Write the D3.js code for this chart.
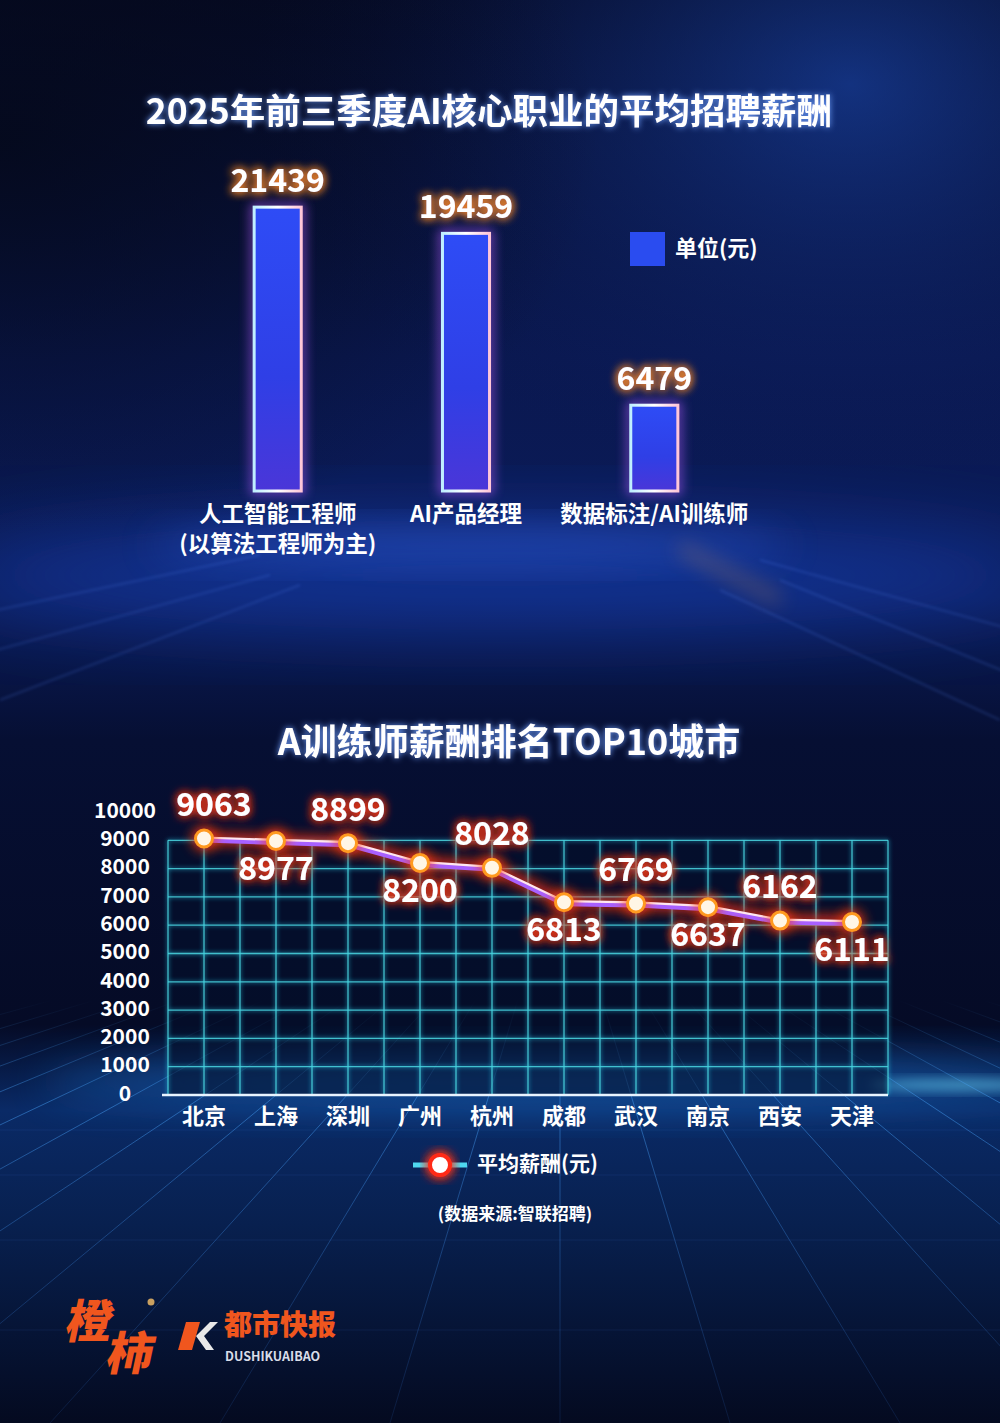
<!DOCTYPE html>
<html>
<head>
<meta charset="utf-8">
<script src="https://cdn.jsdelivr.net/npm/d3@7"></script>
<style>
html,body{margin:0;padding:0;background:#050a22;}
svg{display:block;}
text{font-family:"Noto Sans CJK SC","Noto Sans",sans-serif;}
</style>
</head>
<body>
<svg id="chart" width="1000" height="1423"></svg>
<script>
// ---------- DATA ----------
const title1 = "2025年前三季度AI核心职业的平均招聘薪酬";
const jobCategories = ["人工智能工程师|(以算法工程师为主)", "AI产品经理", "数据标注/AI训练师"];
const jobSalaries = [21439, 19459, 6479];
const barLegendLabel = "单位(元)";

const title2 = "A训练师薪酬排名TOP10城市";
const cities = ["北京", "上海", "深圳", "广州", "杭州", "成都", "武汉", "南京", "西安", "天津"];
const citySalaries = [9063, 8977, 8899, 8200, 8028, 6813, 6769, 6637, 6162, 6111];
const yTicks = [0, 1000, 2000, 3000, 4000, 5000, 6000, 7000, 8000, 9000, 10000];
const lineLegendLabel = "平均薪酬(元)";
const sourceNote = "(数据来源:智联招聘)";

// ---------- SETUP ----------
const W = 1000, H = 1423;
const svg = d3.select("#chart");
const defs = svg.append("defs");

function glowFilter(id, color, std, strength) {
  const f = defs.append("filter").attr("id", id)
    .attr("x", "-50%").attr("y", "-50%").attr("width", "200%").attr("height", "200%");
  f.append("feFlood").attr("flood-color", color).attr("result", "c");
  f.append("feComposite").attr("in", "c").attr("in2", "SourceAlpha").attr("operator", "in").attr("result", "cs");
  f.append("feGaussianBlur").attr("in", "cs").attr("stdDeviation", std).attr("result", "b");
  const m = f.append("feMerge");
  for (let i = 0; i < strength; i++) m.append("feMergeNode").attr("in", "b");
  m.append("feMergeNode").attr("in", "SourceGraphic");
}
glowFilter("glowOrange", "#ff8a2c", 5, 2);
glowFilter("glowPurple", "#b050ff", 6, 2);
glowFilter("glowRed", "#ff3418", 6, 2);
glowFilter("glowRedText", "#ff3a14", 5, 2);
glowFilter("glowCyan", "#2fe0ff", 2, 1);
glowFilter("glowWhite", "#6fa0ff", 3, 1);

function blurFilter(id, std) {
  const f = defs.append("filter").attr("id", id)
    .attr("x", "-50%").attr("y", "-50%").attr("width", "200%").attr("height", "200%");
  f.append("feGaussianBlur").attr("stdDeviation", std);
}
blurFilter("blur20", 20);
blurFilter("blur40", 40);
blurFilter("blur6", 6);
blurFilter("blur10", 10);
blurFilter("blur2", 1.5);

// ---------- BACKGROUND ----------
const bgGrad = defs.append("linearGradient").attr("id", "bgGrad")
  .attr("x1", 0).attr("y1", 0).attr("x2", 0).attr("y2", 1);
bgGrad.append("stop").attr("offset", "0").attr("stop-color", "#060b26");
bgGrad.append("stop").attr("offset", "0.25").attr("stop-color", "#0a1850");
bgGrad.append("stop").attr("offset", "0.42").attr("stop-color", "#0b1c5a");
bgGrad.append("stop").attr("offset", "0.52").attr("stop-color", "#060f33");
bgGrad.append("stop").attr("offset", "0.72").attr("stop-color", "#050b26");
bgGrad.append("stop").attr("offset", "0.78").attr("stop-color", "#0a2a66");
bgGrad.append("stop").attr("offset", "0.86").attr("stop-color", "#08204f");
bgGrad.append("stop").attr("offset", "1").attr("stop-color", "#040a20");
svg.append("rect").attr("width", W).attr("height", H).attr("fill", "url(#bgGrad)");

const rg = defs.append("radialGradient").attr("id", "topRight").attr("cx", 0.85).attr("cy", 0.12).attr("r", 0.6);
rg.append("stop").attr("offset", 0).attr("stop-color", "#1d4fc0").attr("stop-opacity", 0.55);
rg.append("stop").attr("offset", 1).attr("stop-color", "#0a1850").attr("stop-opacity", 0);
svg.append("rect").attr("width", W).attr("height", 700).attr("fill", "url(#topRight)");

const lg = defs.append("radialGradient").attr("id", "leftDark").attr("cx", 0.0).attr("cy", 0.2).attr("r", 0.6);
lg.append("stop").attr("offset", 0).attr("stop-color", "#040818").attr("stop-opacity", 0.8);
lg.append("stop").attr("offset", 1).attr("stop-color", "#040818").attr("stop-opacity", 0);
svg.append("rect").attr("width", W).attr("height", 700).attr("fill", "url(#leftDark)");

// horizon glows
svg.append("ellipse").attr("cx", 500).attr("cy", 575).attr("rx", 560).attr("ry", 55)
  .attr("fill", "#1f4fd8").attr("opacity", 0.45).attr("filter", "url(#blur40)");
svg.append("ellipse").attr("cx", 470).attr("cy", 545).attr("rx", 320).attr("ry", 18)
  .attr("fill", "#3d72ff").attr("opacity", 0.35).attr("filter", "url(#blur20)");
svg.append("line").attr("x1", 680).attr("y1", 548).attr("x2", 780).attr("y2", 600)
  .attr("stroke", "#d08a40").attr("stroke-width", 10).attr("opacity", 0.35).attr("filter", "url(#blur10)");
svg.append("ellipse").attr("cx", 560).attr("cy", 1082).attr("rx", 520).attr("ry", 28)
  .attr("fill", "#1e7ee0").attr("opacity", 0.45).attr("filter", "url(#blur20)");
svg.append("ellipse").attr("cx", 960).attr("cy", 1085).attr("rx", 90).attr("ry", 6)
  .attr("fill", "#6fe0ff").attr("opacity", 0.55).attr("filter", "url(#blur6)");

// streaks near the upper horizon
const streaks = svg.append("g").attr("opacity", 0.25).attr("filter", "url(#blur2)");
[[-50, 620, 260, 555], [-40, 660, 270, 575], [0, 700, 300, 585], [1050, 640, 760, 560], [1050, 690, 780, 580], [1000, 720, 720, 590]]
  .forEach(s => streaks.append("line").attr("x1", s[0]).attr("y1", s[1]).attr("x2", s[2]).attr("y2", s[3])
    .attr("stroke", "#5a8cff").attr("stroke-width", 1.5));

// perspective floor grid at the bottom
const floor = svg.append("g");
const fg = defs.append("linearGradient").attr("id", "floorFade").attr("gradientUnits", "userSpaceOnUse")
  .attr("x1", 0).attr("y1", 1000).attr("x2", 0).attr("y2", 1423);
fg.append("stop").attr("offset", 0).attr("stop-color", "#4aa8ff").attr("stop-opacity", 0);
fg.append("stop").attr("offset", 0.25).attr("stop-color", "#4aa8ff").attr("stop-opacity", 0.45);
fg.append("stop").attr("offset", 1).attr("stop-color", "#2f6fd0").attr("stop-opacity", 0.15);
const vpX = 560, vpY = 860;
d3.range(-12, 13).forEach(k => {
  const xb = vpX + k * 170;
  floor.append("line").attr("x1", vpX + (xb - vpX) * 0.25).attr("y1", vpY + (H - vpY) * 0.25)
    .attr("x2", xb).attr("y2", H)
    .attr("stroke", "url(#floorFade)").attr("stroke-width", 1);
});
[1130, 1175, 1240, 1330].forEach(y => floor.append("line").attr("x1", 0).attr("x2", W).attr("y1", y).attr("y2", y)
  .attr("stroke", "#3f7fd8").attr("stroke-opacity", 0.12));

// ---------- CHART 1: BAR ----------
svg.append("text").attr("x", 489).attr("y", 114).attr("text-anchor", "middle")
  .attr("dominant-baseline", "middle").attr("font-size", 35.5).attr("font-weight", 700)
  .attr("fill", "#ffffff").attr("filter", "url(#glowWhite)").text(title1);

const xBar = d3.scaleBand().domain(jobCategories).range([160, 772]).paddingInner(0.75).paddingOuter(0.5);
const yBar = d3.scaleLinear().domain([0, 25000]).range([491, 160]);

const barFill = defs.append("linearGradient").attr("id", "barFill").attr("x1", 0).attr("y1", 0).attr("x2", 0).attr("y2", 1);
barFill.append("stop").attr("offset", 0).attr("stop-color", "#2e4cf6");
barFill.append("stop").attr("offset", 0.6).attr("stop-color", "#2f3fe6");
barFill.append("stop").attr("offset", 1).attr("stop-color", "#4a36d8");
const barStroke = defs.append("linearGradient").attr("id", "barStroke").attr("x1", 0).attr("y1", 0).attr("x2", 1).attr("y2", 0);
barStroke.append("stop").attr("offset", 0).attr("stop-color", "#bfefff");
barStroke.append("stop").attr("offset", 0.5).attr("stop-color", "#ffffff");
barStroke.append("stop").attr("offset", 1).attr("stop-color", "#ffc6d8");

const bars = svg.append("g");
bars.selectAll("rect.glow").data(jobSalaries).join("rect").attr("class", "glow")
  .attr("x", (d, i) => xBar(jobCategories[i]))
  .attr("y", d => yBar(d))
  .attr("width", xBar.bandwidth())
  .attr("height", d => yBar(0) - yBar(d))
  .attr("fill", "none").attr("stroke", "#b45cff").attr("stroke-width", 6)
  .attr("opacity", 0.8).attr("filter", "url(#blur6)");
bars.selectAll("rect.bar").data(jobSalaries).join("rect").attr("class", "bar")
  .attr("x", (d, i) => xBar(jobCategories[i]))
  .attr("y", d => yBar(d))
  .attr("width", xBar.bandwidth())
  .attr("height", d => yBar(0) - yBar(d))
  .attr("fill", "url(#barFill)").attr("stroke", "url(#barStroke)").attr("stroke-width", 3);
bars.selectAll("line.top").data(jobSalaries).join("line").attr("class", "top")
  .attr("x1", (d, i) => xBar(jobCategories[i]))
  .attr("x2", (d, i) => xBar(jobCategories[i]) + xBar.bandwidth())
  .attr("y1", d => yBar(d)).attr("y2", d => yBar(d))
  .attr("stroke", "#ffe2c0").attr("stroke-width", 3).attr("filter", "url(#glowOrange)");

// axis line
svg.append("line").attr("x1", 196).attr("x2", 730).attr("y1", yBar(0)).attr("y2", yBar(0))
  .attr("stroke", "#cfc8ff").attr("stroke-width", 2.5).attr("filter", "url(#glowPurple)");

// value labels
svg.append("g").selectAll("text").data(jobSalaries).join("text")
  .attr("x", (d, i) => xBar(jobCategories[i]) + xBar.bandwidth() / 2)
  .attr("y", d => yBar(d) - 24)
  .attr("text-anchor", "middle").attr("dominant-baseline", "middle")
  .attr("font-size", 32).attr("font-weight", 700).attr("fill", "#ffffff")
  .attr("filter", "url(#glowOrange)").text(d => d);

// category labels (separate text per line)
const catG = svg.append("g");
jobCategories.forEach(c => {
  const lines = c.split("|");
  lines.forEach((l, j) => catG.append("text")
    .attr("x", xBar(c) + xBar.bandwidth() / 2).attr("y", 516 + j * 30)
    .attr("text-anchor", "middle").attr("dominant-baseline", "middle")
    .attr("font-size", 22.5).attr("font-weight", 700).attr("fill", "#ffffff").text(l));
});

// legend
const leg1 = svg.append("g").attr("transform", "translate(630,232)");
leg1.append("rect").attr("width", 35).attr("height", 34).attr("fill", "#2a4cf0");
leg1.append("text").attr("x", 45).attr("y", 18).attr("dominant-baseline", "middle")
  .attr("font-size", 22).attr("font-weight", 700).attr("fill", "#ffffff").text(barLegendLabel);

// ---------- CHART 2: LINE ----------
svg.append("text").attr("x", 509).attr("y", 745).attr("text-anchor", "middle")
  .attr("dominant-baseline", "middle").attr("font-size", 36).attr("font-weight", 700)
  .attr("fill", "#ffffff").attr("filter", "url(#glowWhite)").text(title2);

const xL = d3.scaleBand().domain(cities).range([168, 888]);
const yL = d3.scaleLinear().domain([0, 10000]).range([1095, 812]);
const gridTop = yL(9000);

svg.append("rect").attr("x", xL.range()[0]).attr("y", gridTop)
  .attr("width", xL.range()[1] - xL.range()[0]).attr("height", yL(0) - gridTop)
  .attr("fill", "#04102c").attr("opacity", 0.55);

const grid = svg.append("g").attr("stroke", "#49d6e0").attr("stroke-width", 1.3)
  .attr("stroke-opacity", 0.85).attr("filter", "url(#glowCyan)");
grid.selectAll("line.h").data(yTicks.filter(t => t >= 1000 && t <= 9000)).join("line").attr("class", "h")
  .attr("x1", xL.range()[0]).attr("x2", xL.range()[1]).attr("y1", d => yL(d)).attr("y2", d => yL(d));
const vLines = [];
cities.forEach(c => { vLines.push(xL(c)); vLines.push(xL(c) + xL.bandwidth() / 2); });
vLines.push(xL.range()[1]);
grid.selectAll("line.v").data(vLines).join("line").attr("class", "v")
  .attr("x1", d => d).attr("x2", d => d).attr("y1", gridTop).attr("y2", yL(0));

svg.append("line").attr("x1", 162).attr("x2", xL.range()[1]).attr("y1", yL(0)).attr("y2", yL(0))
  .attr("stroke", "#e8f4ff").attr("stroke-width", 2.5);

svg.append("g").selectAll("text").data(yTicks).join("text")
  .attr("x", 125).attr("y", d => yL(d)).attr("text-anchor", "middle").attr("dominant-baseline", "middle")
  .attr("font-size", 21).attr("font-weight", 700).attr("fill", "#ffffff").text(d => d);

svg.append("g").selectAll("text").data(cities).join("text")
  .attr("x", d => xL(d) + xL.bandwidth() / 2).attr("y", 1118)
  .attr("text-anchor", "middle").attr("dominant-baseline", "middle")
  .attr("font-size", 22).attr("font-weight", 700).attr("fill", "#ffffff").text(d => d);

// line
const pts = cities.map((c, i) => [xL(c) + xL.bandwidth() / 2, yL(citySalaries[i])]);
const lineGen = d3.line();
svg.append("path").attr("d", lineGen(pts)).attr("fill", "none").attr("stroke", "#ff3010")
  .attr("stroke-width", 14).attr("opacity", 0.7).attr("filter", "url(#blur6)");
svg.append("path").attr("d", lineGen(pts.map(p => [p[0], p[1] + 1.5]))).attr("fill", "none")
  .attr("stroke", "#a860ff").attr("stroke-width", 5);
svg.append("path").attr("d", lineGen(pts.map(p => [p[0], p[1] - 1]))).attr("fill", "none")
  .attr("stroke", "#ffe6f0").attr("stroke-width", 2.2);

const ptG = svg.append("g");
ptG.selectAll("circle.halo").data(pts).join("circle").attr("class", "halo")
  .attr("cx", d => d[0]).attr("cy", d => d[1]).attr("r", 13)
  .attr("fill", "#ff3a10").attr("opacity", 0.75).attr("filter", "url(#blur6)");
ptG.selectAll("circle.dot").data(pts).join("circle").attr("class", "dot")
  .attr("cx", d => d[0]).attr("cy", d => d[1]).attr("r", 8.5)
  .attr("fill", "#fff6e6").attr("stroke", "#ff9a20").attr("stroke-width", 3);

svg.append("g").selectAll("text").data(citySalaries).join("text")
  .attr("x", (d, i) => pts[i][0] + (i === 0 ? 10 : 0))
  .attr("y", (d, i) => pts[i][1] + (i % 2 === 0 ? -31 : 30))
  .attr("text-anchor", "middle").attr("dominant-baseline", "middle")
  .attr("font-size", 32).attr("font-weight", 700).attr("fill", "#ffffff")
  .attr("filter", "url(#glowRedText)").text(d => d);

// legend
const leg2 = svg.append("g").attr("transform", "translate(440,1165)");
leg2.append("line").attr("x1", -27).attr("x2", 27).attr("stroke", "#4fd8f0").attr("stroke-width", 5);
leg2.append("circle").attr("r", 10).attr("fill", "#ffffff").attr("stroke", "#ff2a18").attr("stroke-width", 4)
  .attr("filter", "url(#glowRed)");
leg2.append("text").attr("x", 37).attr("y", 0).attr("dominant-baseline", "middle")
  .attr("font-size", 21).attr("font-weight", 700).attr("fill", "#ffffff").text(lineLegendLabel);

svg.append("text").attr("x", 515).attr("y", 1215).attr("text-anchor", "middle").attr("dominant-baseline", "middle")
  .attr("font-size", 17).attr("font-weight", 700).attr("fill", "#ffffff").text(sourceNote);

// ---------- LOGO ----------
const logo = svg.append("g");
logo.append("text").attr("x", 68).attr("y", 1338).attr("font-size", 46).attr("font-weight", 900)
  .attr("fill", "#f0561e").attr("transform", "skewX(-12)").attr("dx", 280).text("橙");
logo.append("text").attr("x", 106).attr("y", 1370).attr("font-size", 46).attr("font-weight", 900)
  .attr("fill", "#f0561e").attr("transform", "skewX(-12)").attr("dx", 290).text("柿");
logo.append("circle").attr("cx", 151).attr("cy", 1302).attr("r", 3.5).attr("fill", "#c9a060");
logo.append("path").attr("d", "M186,1322 L200,1322 L192,1350 L178,1350 Z").attr("fill", "#f0561e");
logo.append("path").attr("d", "M218,1322 L204,1336 L214,1350 L206,1350 L196,1336 L210,1322 Z").attr("fill", "#e8e8e8");
logo.append("text").attr("x", 224).attr("y", 1335).attr("font-size", 28).attr("font-weight", 900)
  .attr("fill", "#f0561e").text("都市快报");
logo.append("text").attr("x", 225).attr("y", 1361).attr("font-size", 12.5).attr("font-weight", 700)
  .attr("fill", "#d8dce8").attr("font-family", "Liberation Sans, Arial, sans-serif").text("DUSHIKUAIBAO");
</script>
</body>
</html>
